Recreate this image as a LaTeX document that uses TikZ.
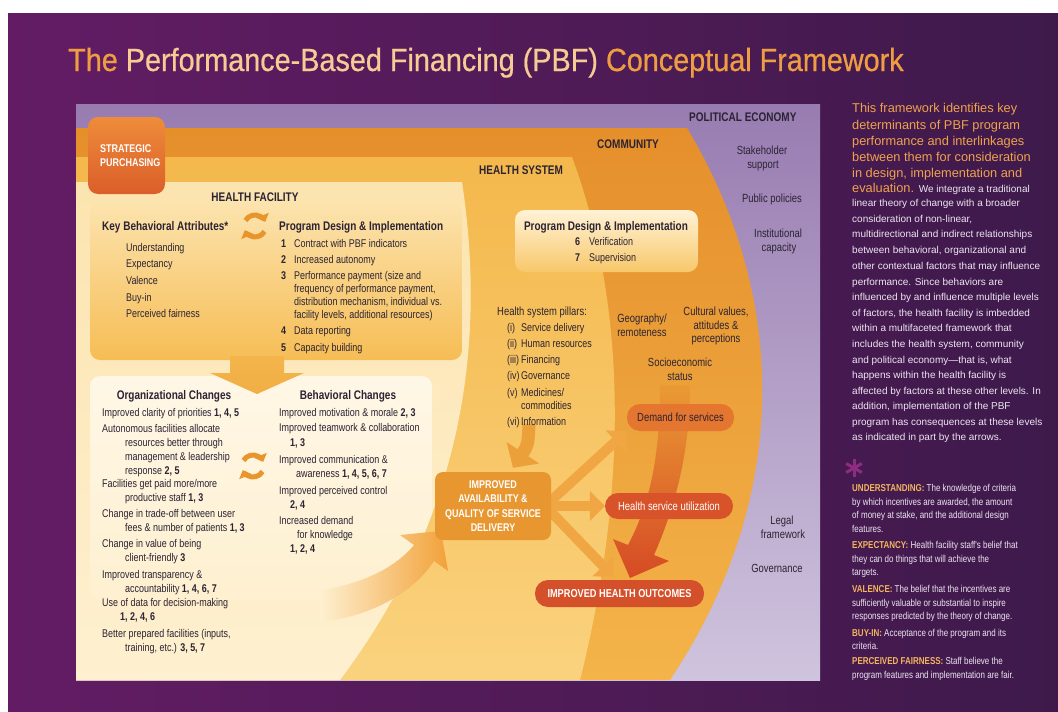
\documentclass[tikz,border=0pt]{standalone}
\usepackage{fontspec}
\setmainfont{Liberation Sans}
\newfontfamily\cf[FakeStretch=0.8]{Liberation Sans}
\newfontfamily\tfnt[FakeStretch=0.9,FakeBold=0.6]{Liberation Sans}
\usetikzlibrary{arrows.meta,calc}
\pgfdeclarelayer{back}\pgfdeclarelayer{mid}\pgfsetlayers{back,mid,main}

\definecolor{bgL}{HTML}{631C64}
\definecolor{bgR}{HTML}{3E1A4B}
\definecolor{peT}{HTML}{987CB1}
\definecolor{peB}{HTML}{CFC4DE}
\definecolor{comT}{HTML}{E58F2B}
\definecolor{comB}{HTML}{F4B44A}
\definecolor{hsT}{HTML}{F4B84C}
\definecolor{hsB}{HTML}{FAD27E}
\definecolor{hfT}{HTML}{FCE4AF}
\definecolor{hfB}{HTML}{FEF0D0}
\definecolor{hfbox}{HTML}{F6BD55}
\definecolor{lowbox}{HTML}{FFF7E6}
\definecolor{ink}{HTML}{2B2333}
\definecolor{spT}{HTML}{EE8C3A}
\definecolor{spB}{HTML}{DB5E2A}
\definecolor{impcol}{HTML}{E8962F}
\definecolor{demcol}{HTML}{E4762F}
\definecolor{utilcol}{HTML}{D8532A}
\definecolor{outcol}{HTML}{D4502B}
\definecolor{fanarr}{HTML}{F0A743}
\definecolor{pilarr}{HTML}{ECA03A}
\definecolor{redarr}{HTML}{D64A25}
\definecolor{ttlA}{HTML}{EE9D42}
\definecolor{ttlB}{HTML}{F7CB94}
\definecolor{introcol}{HTML}{EEA24C}
\definecolor{deflbl}{HTML}{F2B55E}
\definecolor{bodyw}{HTML}{EDE5F1}
\definecolor{aster}{HTML}{8E2C80}
\definecolor{cyc}{HTML}{E8952C}
\definecolor{gold}{HTML}{F1AE44}
\definecolor{hspdT}{HTML}{FFF2D6}
\definecolor{hspdB}{HTML}{F8C86A}

\tikzset{
  lw/.style={inner sep=0pt, anchor=base west, text=ink, font=\cf\fontsize{11.2}{13}\selectfont},
  lc/.style={lw, anchor=base},
  lcb/.style={lc, font=\cf\fontsize{11.8}{13}\selectfont},
  hdw/.style={inner sep=0pt, anchor=base west, text=ink, font=\cf\bfseries\fontsize{12.5}{14}\selectfont},
  hdc/.style={hdw, anchor=base},
  nbw/.style={lw, font=\cf\bfseries\fontsize{11.2}{13}\selectfont},
  spw/.style={inner sep=0pt, anchor=base west, text=white, font=\cf\bfseries\fontsize{11.2}{13}\selectfont},
  introt/.style={inner sep=0pt, anchor=base west, text=introcol, font=\fontsize{12.8}{15}\selectfont},
  bodyr/.style={inner sep=0pt, anchor=base west, text=bodyw, font=\fontsize{10}{12}\selectfont},
  defl/.style={inner sep=0pt, anchor=base west, text=bodyw, font=\cf\fontsize{10}{12}\selectfont},
  pillbox/.style={inner sep=0pt, rounded corners=13pt, minimum height=27pt, font=\cf\fontsize{11.8}{13}\selectfont},
  fanarrow/.style={draw=fanarr, line width=10pt, -{Triangle[width=29pt 0, length=15pt 0]}},
  pilarrow/.style={draw=pilarr, line width=13pt, -{Triangle[width=38pt 0, length=18pt 0]}},
  cycarrow/.style={draw=cyc, line width=5pt, -{Triangle[width=13pt 0, length=7pt 0]}},
  cyclearrows/.pic={
    \begin{scope}[yscale=-1]
      \draw[cycarrow] (150:11) arc[start angle=150, end angle=22, radius=11];
      \draw[cycarrow] (330:11) arc[start angle=330, end angle=202, radius=11];
    \end{scope}
  },
}

\begin{document}
\begin{tikzpicture}[x=1pt,y=-1pt]
\useasboundingbox (0,0) rectangle (1058,712);

\begin{pgfonlayer}{back}
\fill[white] (0,0) rectangle (1058,712);
\shade[left color=bgL, right color=bgR] (8,13) rectangle (1058,712);
% political economy panel
\shade[top color=peT, bottom color=peB] (76,104) rectangle (820,680);
% community
\shade[top color=comT, bottom color=comB] (76,128) -- (687,128) .. controls (790,300) and (790,500) .. (670,680) -- (76,680) -- cycle;
% health system
\shade[top color=hsT, bottom color=hsB] (76,157) -- (572,157) .. controls (625,300) and (630,480) .. (580,680) -- (76,680) -- cycle;
% health facility
\shade[top color=hfT, bottom color=hfB] (76,182) -- (462,182) .. controls (495,400) and (430,560) .. (340,680) -- (76,680) -- cycle;
% upper HF box
\shade[top color=hfT, middle color=hfT!65!hfbox, bottom color=hfbox, rounded corners=10pt] (90,200) rectangle (462,360);
% lower box
\begin{scope}
\clip (76,182) -- (462,182) .. controls (495,400) and (430,560) .. (340,680) -- (76,680) -- cycle;
\shade[top color=lowbox, bottom color=hfB, rounded corners=10pt] (90,376) rectangle (432,600);
\end{scope}
\end{pgfonlayer}

% ---------- boxes ----------
\node[minimum width=77pt, minimum height=77pt, rounded corners=10pt, top color=spT, bottom color=spB, inner sep=0pt] (strat) at (126.5,155.5) {};
\node[minimum width=183pt, minimum height=62pt, rounded corners=10pt, top color=hspdT, bottom color=hspdB, inner sep=0pt] (hspd) at (606.5,241) {};
\node[fill=impcol, rounded corners=8pt, minimum width=116pt, minimum height=68pt, inner sep=0pt, align=center, text=white, font=\cf\bfseries\fontsize{11.2}{14.5}\selectfont] (imp) at (493,506) {IMPROVED\\AVAILABILITY \&\\QUALITY OF SERVICE\\DELIVERY};
\node[pillbox, fill=demcol, minimum width=107pt, text=ink] (demand) at (680.5,417.5) {Demand for services};
\node[pillbox, fill=utilcol, minimum width=128pt, minimum height=26pt, text=white] (util) at (669,506) {Health service utilization};
\node[pillbox, fill=outcol, minimum width=169pt, text=white, font=\cf\bfseries\fontsize{11.5}{13}\selectfont] (outc) at (619.5,593.5) {IMPROVED HEALTH OUTCOMES};

% ---------- arrows ----------
\begin{pgfonlayer}{mid}
% down arrow in health facility
\shade[top color=gold!55!hfbox, bottom color=gold] (230,356) -- (284,356) -- (284,373) -- (304,373) -- (257,394) -- (210,373) -- (230,373) -- cycle;
% swoosh from changes to improved availability
\shade[left color=hfB, right color=fanarr!85!orange] (320,590) .. controls (365,584) and (398,565) .. (414,545) -- (400,535) -- (441,531) -- (448,571) -- (434,561) .. controls (415,590) and (375,616) .. (320,622) -- cycle;
% pillars arrow
\coordinate (pilT) at (529,424);
\draw[pilarrow] (pilT) .. controls (528,445) .. ($(imp.north)+(20,-4)$);
% fan arrows
\coordinate (fanO) at ($(imp.east)+(-6,0)$);
\draw[fanarrow] (fanO) -- (demand.south west);
\draw[fanarrow] (fanO) -- (util.west);
\draw[fanarrow] (fanO) -- ($(outc.north)+(-6,-3)$);
% big red arrow socioeconomic -> outcomes
\shade[top color=comT!70!comB, middle color=redarr!80!comT, bottom color=redarr] (660,385) .. controls (660,450) and (652,500) .. (628,545) -- (613,539) -- (630,578) -- (669,561) -- (654,555) .. controls (676,505) and (690,450) .. (690,385) -- cycle;
\end{pgfonlayer}

% cycle icons
\pic (cycA) at (255,226) {cyclearrows};
\pic (cycB) at (253,466) {cyclearrows};

% ---------- title ----------
\node[anchor=base west, inner sep=0pt, font=\tfnt\fontsize{32}{36}\selectfont] (title) at (68,71) {\textcolor{ttlA}{The} \textcolor{ttlB}{Performance-Based Financing (PBF)} \textcolor{ttlA}{Conceptual Framework}};

% ---------- level labels ----------
\node[hdw] (lblPE) at (689,121) {POLITICAL ECONOMY};
\node[hdw] (lblCOM) at (597,148) {COMMUNITY};
\node[hdw] (lblHS) at (479,174) {HEALTH SYSTEM};
\node[hdc] (lblHF) at (255,201) {HEALTH FACILITY};
\node[spw] (sp1) at (100,152) {STRATEGIC};
\node[spw] (sp2) at (100,166) {PURCHASING};

% ---------- key behavioral attributes ----------
\node[hdw] (kba) at (102,230) {Key Behavioral Attributes*};
\foreach \y/\t [count=\i] in {247/{Understanding},263/{Expectancy},280/{Valence},297/{Buy-in},313/{Perceived fairness}}
  \node[lw] (kba\i) at (126,\y+4) {\t};

% ---------- program design (facility) ----------
\node[hdw] (pd) at (279,230) {Program Design \& Implementation};
\foreach \y/\n/\t [count=\i] in {243/1/{Contract with PBF indicators},259/2/{Increased autonomy},275/3/{Performance payment (size and},330/4/{Data reporting},347/5/{Capacity building}}{
  \node[nbw] (pdn\i) at (281,\y+4) {\n};
  \node[lw] (pdt\i) at (294,\y+4) {\t};
}
\foreach \y/\t [count=\i] in {288/{frequency of performance payment,},301/{distribution mechanism, individual vs.},314/{facility levels, additional resources)}}
  \node[lw] (pdc\i) at (294,\y+4) {\t};

% ---------- organizational changes ----------
\node[hdc] (org) at (174,399) {Organizational Changes};
\foreach \x/\y/\t [count=\i] in {
  102/412/{Improved clarity of priorities \textbf{1, 4, 5}},
  102/428/{Autonomous facilities allocate},
  125/442/{resources better through},
  125/456/{management \& leadership},
  125/470/{response \textbf{2, 5}},
  102/483/{Facilities get paid more/more},
  125/497/{productive staff \textbf{1, 3}},
  102/513/{Change in trade-off between user},
  125/527/{fees \& number of patients \textbf{1, 3}},
  102/543/{Change in value of being},
  125/557/{client-friendly \textbf{3}},
  102/574/{Improved transparency \&},
  125/588/{accountability \textbf{1, 4, 6, 7}},
  102/602/{Use of data for decision-making},
  120/616/{\textbf{1, 2, 4, 6}},
  102/633/{Better prepared facilities (inputs,},
  125/647/{training, etc.) \textbf{3, 5, 7}}}
  \node[lw] (org\i) at (\x,\y+4) {\t};

% ---------- behavioral changes ----------
\node[hdc] (beh) at (348,399) {Behavioral Changes};
\foreach \x/\y/\t [count=\i] in {
  279/412/{Improved motivation \& morale \textbf{2, 3}},
  279/427/{Improved teamwork \& collaboration},
  290/442/{\textbf{1, 3}},
  279/459/{Improved communication \&},
  296/473/{awareness \textbf{1, 4, 5, 6, 7}},
  279/490/{Improved perceived control},
  290/504/{\textbf{2, 4}},
  279/520/{Increased demand},
  297/534/{for knowledge},
  290/548/{\textbf{1, 2, 4}}}
  \node[lw] (beh\i) at (\x,\y+4) {\t};

% ---------- health system program design ----------
\node[hdc] (hspdh) at (606,230) {Program Design \& Implementation};
\node[nbw] (hsn6) at (575,245) {6};
\node[lw] (hst6) at (589,245) {Verification};
\node[nbw] (hsn7) at (575,261) {7};
\node[lw] (hst7) at (589,261) {Supervision};

% ---------- pillars ----------
\node[lw, font=\cf\fontsize{11.8}{13}\selectfont] (pil) at (497,315) {Health system pillars:};
\foreach \y/\n/\t [count=\i] in {327/(i)/{Service delivery},343/(ii)/{Human resources},359/(iii)/{Financing},375/(iv)/{Governance},392/(v)/{Medicines/},421/(vi)/{Information}}{
  \node[lw] (piln\i) at (507,\y+4) {\n};
  \node[lw] (pilt\i) at (521,\y+4) {\t};
}
\node[lw] (pilc) at (521,409) {commodities};

% ---------- community factors ----------
\node[lcb] (geo1) at (642,322) {Geography/};
\node[lcb] (geo2) at (642,336) {remoteness};
\node[lcb] (cul1) at (716,315) {Cultural values,};
\node[lcb] (cul2) at (716,329) {attitudes \&};
\node[lcb] (cul3) at (716,342) {perceptions};
\node[lcb] (ses1) at (680,366) {Socioeconomic};
\node[lcb] (ses2) at (680,380) {status};

% ---------- political economy factors ----------
\node[lcb] (pe1) at (762,154) {Stakeholder};
\node[lcb] (pe2) at (763,168) {support};
\node[lcb] (pe3) at (772,202) {Public policies};
\node[lcb] (pe4) at (778,237) {Institutional};
\node[lcb] (pe5) at (779,251) {capacity};
\node[lcb] (pe6) at (782,524) {Legal};
\node[lcb] (pe7) at (783,538) {framework};
\node[lcb] (pe8) at (777,572) {Governance};

% ---------- right column ----------
\foreach \y/\t [count=\i] in {108/{This framework identifies key},125/{determinants of PBF program},141/{performance and interlinkages},157/{between them for consideration},173/{in design, implementation and}}
  \node[introt] (intro\i) at (852,\y+4.5) {\t};
\node[introt] (intro6) at (852,192.5) {evaluation. {\color{bodyw}\fontsize{10}{12}\selectfont We integrate a traditional}};
\foreach \y/\t [count=\i] in {
  203/{linear theory of change with a broader},
  219/{consideration of non-linear,},
  234/{multidirectional and indirect relationships},
  250/{between behavioral, organizational and},
  266/{other contextual factors that may influence},
  282/{performance. Since behaviors are},
  297/{influenced by and influence multiple levels},
  313/{of factors, the health facility is imbedded},
  328/{within a multifaceted framework that},
  344/{includes the health system, community},
  360/{and political economy—that is, what},
  375/{happens within the health facility is},
  391/{affected by factors at these other levels. In},
  406/{addition, implementation of the PBF},
  422/{program has consequences at these levels},
  437/{as indicated in part by the arrows.}}
  \node[bodyr] (body\i) at (852,\y+3.5) {\t};

% asterisk
\coordinate (ast) at (854,468);
\foreach \a in {90,30,150}
  \draw[aster, line width=3pt] ($(ast)+(\a:9)$) -- ($(ast)+(\a+180:9)$);

\foreach \y/\t [count=\i] in {
  488/{\textcolor{deflbl}{\textbf{UNDERSTANDING:}} The knowledge of criteria},
  502/{by which incentives are awarded, the amount},
  515/{of money at stake, and the additional design},
  529/{features.},
  545/{\textcolor{deflbl}{\textbf{EXPECTANCY:}} Health facility staff's belief that},
  559/{they can do things that will achieve the},
  572/{targets.},
  589/{\textcolor{deflbl}{\textbf{VALENCE:}} The belief that the incentives are},
  603/{sufficiently valuable or substantial to inspire},
  616/{responses predicted by the theory of change.},
  633/{\textcolor{deflbl}{\textbf{BUY-IN:}} Acceptance of the program and its},
  646/{criteria.},
  661/{\textcolor{deflbl}{\textbf{PERCEIVED FAIRNESS:}} Staff believe the},
  675/{program features and implementation are fair.}}
  \node[defl] (def\i) at (852,\y+3.5) {\t};

\end{tikzpicture}
\end{document}
